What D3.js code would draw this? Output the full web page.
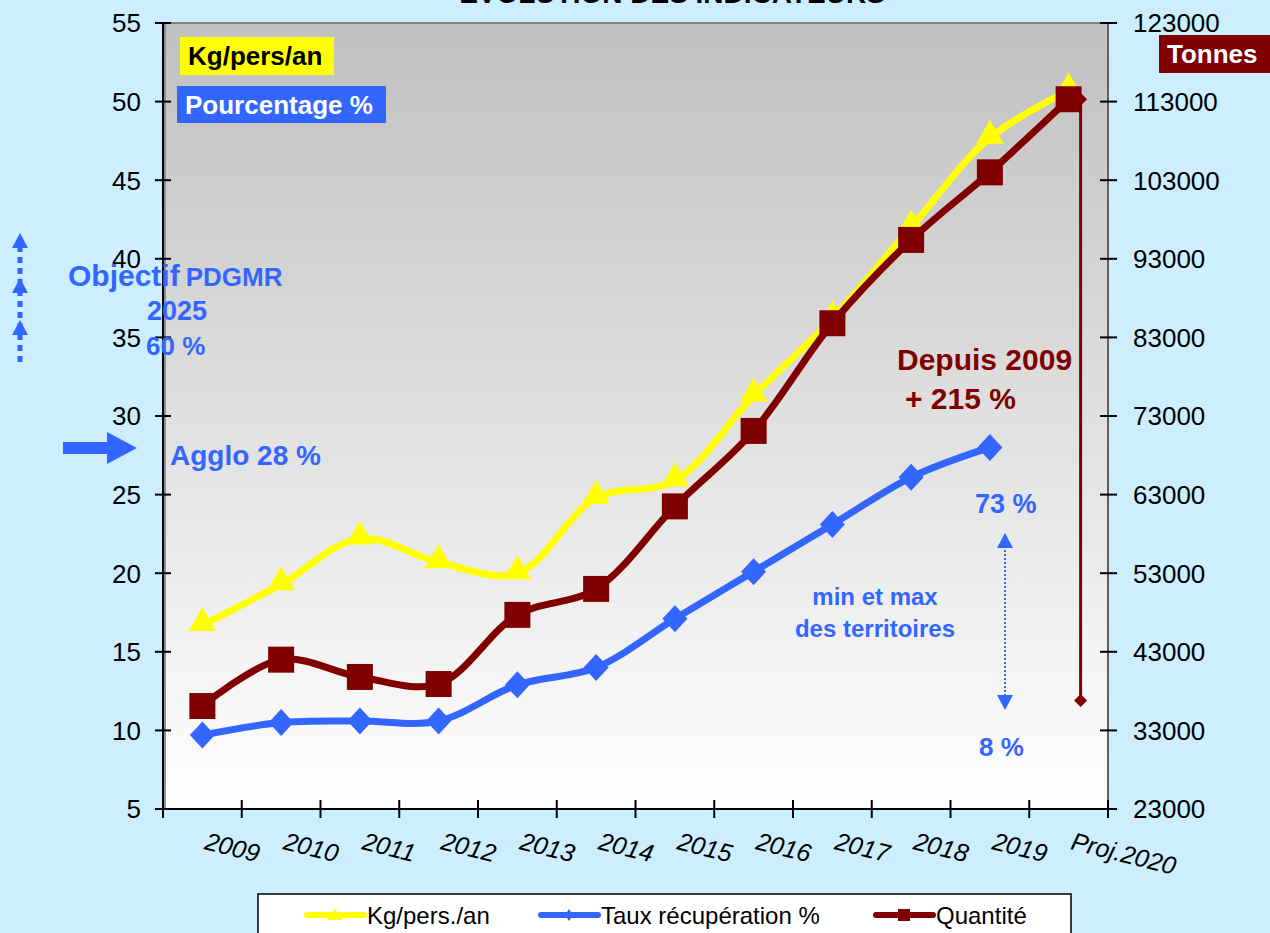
<!DOCTYPE html>
<html>
<head>
<meta charset="utf-8">
<script src="https://cdn.jsdelivr.net/npm/d3@7"></script>
<style>
  body { margin: 0; background: #cceeff; }
  svg { display: block; font-family: "Liberation Sans", Arial, sans-serif; }
</style>
</head>
<body>
<svg id="chart" width="1270" height="933"></svg>
<script>
// DATA
const categories = ["2009", "2010", "2011", "2012", "2013", "2014", "2015", "2016", "2017", "2018", "2019", "Proj.2020"];
const kgPersAn = [16.7, 19.3, 22.2, 20.7, 20.0, 24.8, 25.9, 31.3, 36.2, 42.0, 47.7, 50.7];
const tauxRecup = [9.7, 10.5, 10.6, 10.6, 12.9, 14.0, 17.1, 20.1, 23.1, 26.1, 28.0];
const quantite = [36100, 42000, 39800, 38900, 47700, 51000, 61500, 71100, 84800, 95400, 104000, 113300];
const leftTicks = [5, 10, 15, 20, 25, 30, 35, 40, 45, 50, 55];
const rightTicks = [23000, 33000, 43000, 53000, 63000, 73000, 83000, 93000, 103000, 113000, 123000];
const dropLine = [113300, 36800]; // the red vertical line next to Proj.2020
const legendItems = ["Kg/pers./an", "Taux récupération %", "Quantité"];

const yellow = "#ffff00",
  blue = "#3366ff",
  red = "#800000";

const svg = d3.select("#chart");
const plot = { left: 163, right: 1108, top: 23, bottom: 809 };

// scales
const x = d3.scaleBand().domain(categories).range([plot.left, plot.right]);
const cx = d => x(d) + x.bandwidth() / 2;
const y = d3.scaleLinear().domain([5, 55]).range([plot.bottom, plot.top]);
const y2 = d3.scaleLinear().domain([23000, 123000]).range([plot.bottom, plot.top]);

// title, only the bottom of it shows
svg.append("text")
  .attr("x", 672)
  .attr("y", 3)
  .attr("text-anchor", "middle")
  .attr("font-size", 28)
  .attr("font-weight", "bold")
  .text("EVOLUTION DES INDICATEURS");

// plot area gradient
const grad = svg.append("defs")
  .append("linearGradient")
  .attr("id", "bg")
  .attr("x1", 0).attr("y1", 0).attr("x2", 0).attr("y2", 1);
grad.append("stop").attr("offset", "0%").attr("stop-color", "#c0c0c0");
grad.append("stop").attr("offset", "100%").attr("stop-color", "#ffffff");

svg.append("rect")
  .attr("x", plot.left)
  .attr("y", plot.top)
  .attr("width", plot.right - plot.left)
  .attr("height", plot.bottom - plot.top)
  .attr("fill", "url(#bg)");

svg.append("line")
  .attr("x1", plot.left).attr("x2", plot.right)
  .attr("y1", plot.top).attr("y2", plot.top)
  .attr("stroke", "#808080").attr("stroke-width", 2);

// left axis
const leftAxis = svg.append("g").attr("transform", `translate(${plot.left},0)`);
leftAxis.append("line")
  .attr("x1", 2).attr("x2", 2)
  .attr("y1", plot.top).attr("y2", plot.bottom)
  .attr("stroke", "#909090").attr("stroke-width", 2);
leftAxis.append("line")
  .attr("y1", plot.top).attr("y2", plot.bottom)
  .attr("stroke", "#000").attr("stroke-width", 2);
leftAxis.selectAll(".tick")
  .data(leftTicks)
  .enter()
  .append("line")
  .attr("x1", -8).attr("x2", 8)
  .attr("y1", d => y(d)).attr("y2", d => y(d))
  .attr("stroke", "#000").attr("stroke-width", 2);
leftAxis.selectAll(".lbl")
  .data(leftTicks)
  .enter()
  .append("text")
  .attr("x", -22)
  .attr("y", d => y(d))
  .attr("dy", "0.36em")
  .attr("text-anchor", "end")
  .attr("font-size", 26)
  .text(d => d);

// right axis
const rightAxis = svg.append("g").attr("transform", `translate(${plot.right},0)`);
rightAxis.append("line")
  .attr("y1", plot.top).attr("y2", plot.bottom)
  .attr("stroke", "#606060").attr("stroke-width", 2);
rightAxis.selectAll(".tick")
  .data(rightTicks)
  .enter()
  .append("line")
  .attr("x1", -8).attr("x2", 9)
  .attr("y1", d => y2(d)).attr("y2", d => y2(d))
  .attr("stroke", "#000").attr("stroke-width", 2);
rightAxis.selectAll(".lbl")
  .data(rightTicks)
  .enter()
  .append("text")
  .attr("x", 25)
  .attr("y", d => y2(d))
  .attr("dy", "0.36em")
  .attr("font-size", 26)
  .text(d => d);

// bottom axis, ticks at band edges
const bottomAxis = svg.append("g");
bottomAxis.append("line")
  .attr("x1", plot.left - 2).attr("x2", plot.right + 2)
  .attr("y1", plot.bottom).attr("y2", plot.bottom)
  .attr("stroke", "#000").attr("stroke-width", 2);
bottomAxis.selectAll(".tick")
  .data(categories.concat(["end"]))
  .enter()
  .append("line")
  .attr("x1", (d, i) => plot.left + i * x.step())
  .attr("x2", (d, i) => plot.left + i * x.step())
  .attr("y1", plot.bottom - 9).attr("y2", plot.bottom + 9)
  .attr("stroke", "#000").attr("stroke-width", 2);
bottomAxis.selectAll(".lbl")
  .data(categories)
  .enter()
  .append("text")
  .attr("transform", d => `translate(${cx(d) + 1},${plot.bottom + 40}) rotate(14)`)
  .attr("font-size", 25)
  .attr("font-style", "italic")
  .text(d => d);

// lines
const curve = d3.curveCatmullRom.alpha(0.5);
const lineLeft = d3.line().curve(curve).x((d, i) => cx(categories[i])).y(d => y(d));
const lineRight = d3.line().curve(curve).x((d, i) => cx(categories[i])).y(d => y2(d));

const triangle = d3.symbol().type(d3.symbolTriangle).size(330);
const diamondPath = (w, h) => `M0,${-h / 2}L${w / 2},0L0,${h / 2}L${-w / 2},0Z`;

// yellow
svg.append("path")
  .datum(kgPersAn)
  .attr("d", lineLeft)
  .attr("fill", "none")
  .attr("stroke", yellow)
  .attr("stroke-width", 7);
svg.append("g").selectAll("path")
  .data(kgPersAn)
  .enter()
  .append("path")
  .attr("d", triangle)
  .attr("transform", (d, i) => `translate(${cx(categories[i])},${y(d) - 2})`)
  .attr("fill", yellow);

// blue
svg.append("path")
  .datum(tauxRecup)
  .attr("d", lineLeft)
  .attr("fill", "none")
  .attr("stroke", blue)
  .attr("stroke-width", 7);
svg.append("g").selectAll("path")
  .data(tauxRecup)
  .enter()
  .append("path")
  .attr("d", diamondPath(25, 27))
  .attr("transform", (d, i) => `translate(${cx(categories[i])},${y(d)})`)
  .attr("fill", blue);

// red vertical drop line by the last point
const dropX = cx(categories[categories.length - 1]) + 12;
svg.append("line")
  .attr("x1", dropX).attr("x2", dropX)
  .attr("y1", y2(dropLine[0])).attr("y2", y2(dropLine[1]))
  .attr("stroke", red).attr("stroke-width", 3);
svg.append("g").selectAll("path")
  .data(dropLine)
  .enter()
  .append("path")
  .attr("d", diamondPath(13, 13))
  .attr("transform", d => `translate(${dropX},${y2(d)})`)
  .attr("fill", red);

// red
svg.append("path")
  .datum(quantite)
  .attr("d", lineRight)
  .attr("fill", "none")
  .attr("stroke", red)
  .attr("stroke-width", 7);
svg.append("g").selectAll("rect")
  .data(quantite)
  .enter()
  .append("rect")
  .attr("x", (d, i) => cx(categories[i]) - 13)
  .attr("y", d => y2(d) - 13)
  .attr("width", 26)
  .attr("height", 26)
  .attr("fill", red);

// labels in boxes
function boxLabel(x0, y0, w, h, fill, color, txt) {
  svg.append("rect").attr("x", x0).attr("y", y0).attr("width", w).attr("height", h).attr("fill", fill);
  svg.append("text")
    .attr("x", x0 + 8)
    .attr("y", y0 + h / 2)
    .attr("dy", "0.36em")
    .attr("font-size", 26)
    .attr("font-weight", "bold")
    .attr("fill", color)
    .text(txt);
}
boxLabel(180, 37, 154, 38, yellow, "#000", "Kg/pers/an");
boxLabel(177, 86, 209, 37, blue, "#fff", "Pourcentage %");
boxLabel(1159, 35, 111, 38, red, "#fff", "Tonnes");

// blue annotations
function note(x0, y0, size, color, txt, anchor) {
  return svg.append("text")
    .attr("x", x0)
    .attr("y", y0)
    .attr("font-size", size)
    .attr("font-weight", "bold")
    .attr("fill", color)
    .attr("text-anchor", anchor || "start")
    .text(txt);
}
const obj = note(68, 286, 30, blue, "Objectif");
obj.append("tspan").attr("font-size", 26).attr("dx", 6).text("PDGMR");
note(147, 320, 27, blue, "2025");
note(146, 355, 26, blue, "60 %");
note(170, 465, 28, blue, "Agglo 28 %");
note(897, 370, 30, red, "Depuis 2009");
note(905, 409, 30, red, "+ 215 %");
note(975, 513, 27, blue, "73 %");
note(979, 756, 26, blue, "8 %");
note(875, 605, 24, blue, "min et max", "middle");
note(875, 637, 24, blue, "des territoires", "middle");

// dotted up arrow on the left
svg.append("line")
  .attr("x1", 20).attr("x2", 20).attr("y1", 362).attr("y2", 240)
  .attr("stroke", blue).attr("stroke-width", 5).attr("stroke-dasharray", "6,5");
[233, 278, 320].forEach(t => {
  svg.append("path")
    .attr("d", `M20,${t}L28,${t + 15}L12,${t + 15}Z`)
    .attr("fill", blue);
});

// big right arrow
svg.append("path")
  .attr("d", "M63,442L107,442L107,432L137,448L107,464L107,454L63,454Z")
  .attr("fill", blue);

// dotted double arrow min/max
svg.append("line")
  .attr("x1", 1005).attr("x2", 1005).attr("y1", 546).attr("y2", 696)
  .attr("stroke", blue).attr("stroke-width", 2).attr("stroke-dasharray", "2,2");
svg.append("path").attr("d", "M1005,533L1013,548L997,548Z").attr("fill", blue);
svg.append("path").attr("d", "M1005,710L1013,695L997,695Z").attr("fill", blue);

// legend
svg.append("rect")
  .attr("x", 258).attr("y", 894)
  .attr("width", 813).attr("height", 60)
  .attr("fill", "#fff").attr("stroke", "#000").attr("stroke-width", 1.5);
const legendX = [307, 541, 876];
const legendColors = [yellow, blue, red];
const lg = svg.append("g").selectAll("g")
  .data(legendItems)
  .enter()
  .append("g")
  .attr("transform", (d, i) => `translate(${legendX[i]},915)`);
lg.append("line")
  .attr("x1", 0).attr("x2", 57)
  .attr("stroke", (d, i) => legendColors[i])
  .attr("stroke-width", 6)
  .attr("stroke-linecap", "round");
lg.append("path")
  .attr("d", (d, i) =>
    i === 0 ? "M28,-6L36,5L20,5Z" : i === 1 ? diamondPath(8, 12) : "M-6,-6h12v12h-12Z")
  .attr("transform", (d, i) => (i === 0 ? "" : "translate(28,0)"))
  .attr("fill", (d, i) => legendColors[i]);
lg.append("text")
  .attr("x", 60)
  .attr("y", 0)
  .attr("dy", "0.36em")
  .attr("font-size", 24)
  .text(d => d);
</script>
</body>
</html>
